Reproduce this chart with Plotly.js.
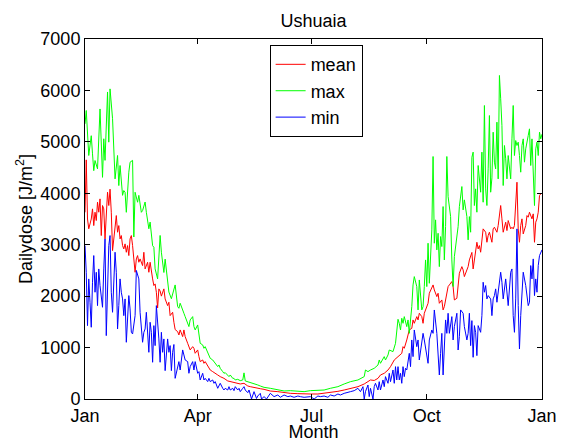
<!DOCTYPE html>
<html>
<head>
<meta charset="utf-8">
<script src="https://cdn.plot.ly/plotly-3.0.1.min.js"></script>
<style>html,body{margin:0;padding:0;background:#fff;}#chart{width:564px;height:442px;}</style>
</head>
<body>
<div id="chart"></div>
<script>
// Day of year (0 = 1 Jan) and daily dose [J/m^2]
var meanDay = [0,1,2,3,5,6,7,8,9,10,11,12,13,14,15,16,18,19,20,21,22,24,25,26,27,28,29,30,31,32,33,34,35,36,37,38,40,41,42,43,44,46,47,48,50,51,52,54,55,56,57,58,59,60,61,63,64,66,67,68,70,71,72,74,75,76,78,79,80,82,83,84,86,87,88,90,91,92,94,95,96,98,99,100,102,103,106,108,111,114,116,119,122,124,127,130,132,135,138,140,143,148,154,159,164,170,175,180,186,191,196,202,207,212,218,223,226,228,231,234,236,239,242,244,247,250,252,253,254,255,257,258,259,261,262,263,265,266,267,269,270,271,273,274,275,277,278,279,281,282,283,285,286,287,289,290,291,293,294,295,297,298,299,301,302,303,305,306,307,308,309,310,312,313,314,315,316,317,318,320,321,322,323,325,326,327,329,330,332,333,334,336,337,338,340,341,342,343,345,346,347,348,349,350,352,353,354,355,357,358,359,360,361,362,363,364,365];
var meanVal = [3630,4650,3500,3310,3500,3697,3372,3632,3470,3827,3632,3891,3178,3762,3697,3113,4021,3762,4080,3632,2886,3372,3567,3243,3372,3113,3178,2983,2918,3016,2853,2983,2789,3113,3178,2983,2464,2724,2789,2659,2724,2594,2853,2529,2659,2464,2659,2335,2206,2238,2075,1770,2141,2100,2000,2141,1946,1816,1881,1621,1686,1492,1350,1310,1245,1343,1213,1343,1213,1083,1018,954,1018,986,889,954,824,727,759,694,727,630,597,564,532,512,467,435,402,351,338,318,305,292,305,253,240,230,215,200,188,155,143,125,110,104,97,97,97,110,123,149,175,208,240,292,337,370,360,402,467,500,564,629,759,824,860,888,1018,986,1148,1277,1342,1375,1537,1472,1602,1537,1667,1602,1472,1667,1796,1861,2056,2186,2218,2120,1991,2056,1861,1926,1732,1796,2056,2186,2218,2283,2186,1926,1958,2283,2445,2574,2510,2380,2510,2574,2704,2789,2850,2529,2853,3048,2918,2983,2854,3113,3308,3243,3048,3178,3243,3048,3308,3340,3243,3373,3762,3503,3243,3438,3275,3470,3308,3340,3308,3373,4215,3308,3048,3373,3503,3210,3373,3567,3535,3632,3503,3600,3048,3438,3503,3632,3956,3989,4000];

var maxDay = [0,1,3,5,6,7,8,10,12,14,15,16,18,19,20,22,24,25,26,27,28,30,31,32,33,35,36,38,39,40,42,43,45,46,48,49,51,52,54,55,56,58,60,61,63,64,66,67,69,71,72,74,75,76,78,79,80,82,83,84,86,87,88,90,91,92,94,95,96,98,99,100,102,103,104,106,107,108,110,111,112,114,115,116,118,119,120,122,123,124,126,127,128,130,131,132,135,138,140,143,148,154,159,164,170,175,180,186,191,196,202,207,212,218,223,224,226,228,231,234,235,236,239,240,242,243,246,248,250,251,252,253,254,255,257,258,259,261,262,263,265,266,267,269,270,271,272,273,274,275,276,277,278,279,280,281,282,283,284,285,286,287,288,289,290,291,292,293,294,295,297,298,299,301,302,303,305,306,307,308,309,310,311,312,313,314,316,317,318,319,320,321,322,323,324,325,326,327,328,329,330,331,332,333,334,335,336,337,338,340,341,342,343,344,345,346,347,348,349,350,351,352,354,355,356,357,359,360,361,362,363,364,365];
var maxVal = [5350,5610,4735,5120,4767,4440,4637,4475,5640,4310,5060,4640,5970,4994,6030,5450,4280,4540,4735,4150,4540,3960,4053,4021,3630,4410,4604,4640,3150,4020,3826,3960,3630,3664,3830,3630,3310,3440,2980,2951,2530,2335,3180,2854,2460,2720,2335,2080,1950,2120,2218,1797,1764,1862,1700,1667,1602,1472,1408,1537,1602,1408,1343,1440,1245,1083,1051,986,1018,889,856,792,759,727,694,630,662,597,532,500,513,467,435,467,402,402,370,383,370,357,370,508,351,338,331,318,305,273,253,227,208,175,156,162,156,143,162,162,175,208,240,292,337,370,435,564,532,564,597,661,759,694,824,759,856,953,921,1083,1550,1472,1342,1570,1472,1602,1407,1537,1277,1796,2218,2380,2186,1732,2315,1732,1796,2186,2704,2186,3029,2250,2704,3288,4715,3029,3483,2899,3223,2574,3158,2964,3742,2704,3353,4715,3936,3677,3547,2704,2186,2769,3094,3353,3742,4131,3677,3872,3547,3094,3547,3243,4700,4800,3762,4086,3632,4540,4021,4800,3826,5707,4086,3762,4475,5512,4021,4300,5188,4605,4475,5383,4280,6291,5837,5318,4151,4929,4670,4280,4734,4280,5058,5707,4734,5026,4929,4994,4734,4410,4929,5058,4605,4864,5123,5253,4540,5058,3762,4864,4994,4734,5188,5058,5150];

var minDay = [0,1,2,3,4,5,6,7,8,9,10,11,12,14,15,16,17,18,19,20,21,22,23,24,25,26,27,28,29,30,31,32,33,34,35,36,37,38,39,40,41,43,44,46,47,48,49,51,52,53,54,55,56,57,59,60,61,62,63,64,66,67,68,69,70,71,72,74,75,76,78,79,80,82,83,84,86,87,88,90,91,92,94,95,96,98,99,100,102,103,104,106,107,108,110,111,112,114,115,116,118,119,120,122,123,124,126,127,128,130,131,132,133,135,137,138,140,141,143,145,146,148,151,154,156,159,162,164,167,170,172,175,180,183,186,188,191,194,196,199,202,204,207,210,212,215,218,220,222,223,224,226,227,228,230,231,232,234,235,236,238,239,240,242,243,244,246,247,248,249,250,251,252,253,254,255,256,257,259,260,261,262,263,265,266,267,269,270,271,273,274,275,277,278,279,281,282,283,284,285,286,287,288,289,290,291,293,294,295,297,298,299,300,302,303,305,306,307,308,309,310,311,312,313,314,316,317,318,319,320,321,322,324,325,326,327,328,329,330,332,333,334,336,337,338,340,341,342,343,344,345,346,347,348,349,350,352,353,354,355,356,357,358,359,360,361,362,363,364,365];
var minVal = [2983,2464,1427,2335,1881,1395,2270,2789,2076,2464,1816,2529,2205,1784,2529,3113,1232,2335,2983,3178,2076,1686,2464,2854,2464,1362,1816,2335,2076,1946,1621,1946,1103,1751,2011,1751,1297,1265,1427,1621,2500,2335,1686,1103,1297,1362,1686,908,1492,1297,714,1427,1038,1816,1168,714,1297,908,1168,551,1168,908,1038,551,908,1060,402,629,727,564,954,856,759,727,500,629,727,564,727,500,532,370,500,370,402,338,402,338,370,305,338,208,273,305,208,175,208,175,240,175,208,162,240,175,208,143,208,240,175,123,175,78,0,143,10,58,110,0,46,0,46,110,46,78,33,78,46,58,33,58,46,33,46,0,58,46,58,33,78,58,97,78,110,123,143,162,208,143,240,0,143,272,46,208,0,240,305,175,337,175,370,240,435,305,500,337,564,305,629,370,629,370,500,305,629,435,597,564,888,629,1148,824,1342,1018,1148,759,1083,1277,1148,824,694,1148,1342,1277,1731,1277,888,467,888,1277,467,1148,1537,1277,1667,1277,1602,1148,1407,1667,953,1213,1732,1667,1407,1148,1277,1667,1038,1524,811,1427,1297,843,1427,1297,1621,2270,2076,2206,1946,2011,1946,1621,1946,2011,2141,1881,2076,2465,2270,1946,2335,2076,1816,2465,2529,1621,1297,1946,3308,1816,973,1621,2076,2465,2206,2011,1816,1881,2594,2335,2724,2011,2335,2076,2594,2789,2854,2900];

var monthTicks = [0, 90, 181, 273, 365];
var monthLabels = ['Jan', 'Apr', 'Jul', 'Oct', 'Jan'];
var seriesNames = ['mean', 'max', 'min'];
var seriesColors = ['#ff0000', '#00ff00', '#0000ff'];

var FONT = 'Liberation Sans, Arial, Helvetica, sans-serif';
var FS = 18;
var traces = [
  {x: meanDay, y: meanVal},
  {x: maxDay, y: maxVal},
  {x: minDay, y: minVal}
].map(function (t, i) {
  return {x: t.x, y: t.y, type: 'scatter', mode: 'lines', name: seriesNames[i],
          line: {color: seriesColors[i], width: 1}};
});

var axisCommon = {
  showline: true, linecolor: '#000', linewidth: 1, mirror: 'ticks',
  ticks: 'inside', ticklen: 5, tickcolor: '#000', showgrid: false, zeroline: false,
  tickfont: {family: FONT, size: FS, color: '#000'}
};

var layout = {
  width: 564, height: 442,
  margin: {l: 85, r: 22, t: 39, b: 43},
  paper_bgcolor: '#fff', plot_bgcolor: '#fff',
  font: {family: FONT, size: FS, color: '#000'},
  title: {text: 'Ushuaia', font: {family: FONT, size: FS, color: '#000'},
          xref: 'paper', x: 0.5, xanchor: 'center', yref: 'container', y: 0.953, yanchor: 'middle'},
  xaxis: Object.assign({}, axisCommon, {
    range: [0, 365], tickmode: 'array', tickvals: monthTicks, ticktext: monthLabels,
    title: {text: 'Month', font: {family: FONT, size: FS, color: '#000'}, standoff: 0}
  }),
  yaxis: Object.assign({}, axisCommon, {
    range: [0, 7000], dtick: 1000, tick0: 0,
    title: {text: 'Dailydose [J/m<sup>2</sup>]', font: {family: FONT, size: FS, color: '#000'}, standoff: 3}
  }),
  showlegend: true,
  legend: {x: 0.404, y: 0.983, xanchor: 'left', yanchor: 'top',
           bordercolor: '#000', borderwidth: 1, bgcolor: '#fff',
           font: {family: FONT, size: FS, color: '#000'}, itemwidth: 30, tracegroupgap: 0}
};

Plotly.newPlot('chart', traces, layout, {staticPlot: true, displayModeBar: false});
</script>
</body>
</html>
